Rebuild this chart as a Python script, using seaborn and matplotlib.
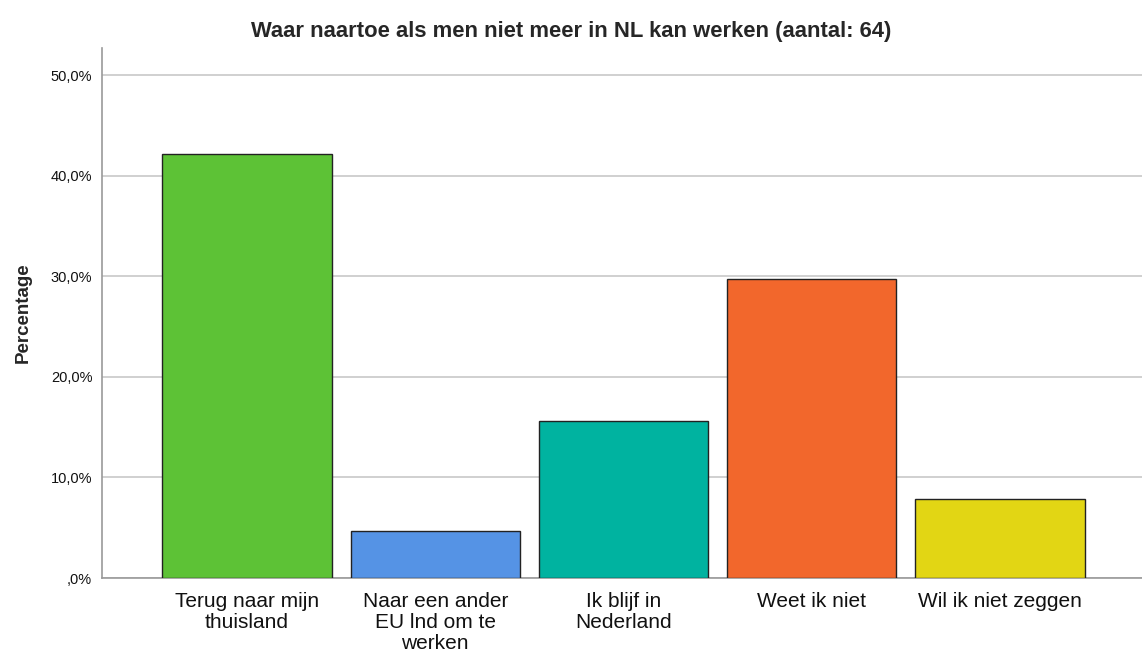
import numpy as np
import pandas as pd
import matplotlib.pyplot as plt
import seaborn as sns
from matplotlib.ticker import FuncFormatter

categories = ["Terug naar mijn\nthuisland", "Naar een ander\nEU lnd om te\nwerken",
              "Ik blijf in\nNederland", "Weet ik niet", "Wil ik niet zeggen"]
counts = [27, 3, 10, 19, 5]
colors = ["#5DC236", "#5593E5", "#00B3A0", "#F2672C", "#E2D614"]

total = sum(counts)
df = pd.DataFrame({"cat": categories, "pct": [c / total * 100 for c in counts]})

sns.set_style("white")
plt.rcParams["font.family"] = ["Liberation Sans", "DejaVu Sans"]

fig = plt.figure(figsize=(11.42, 6.54), dpi=100)
ax = fig.add_axes([0.0893, 0.1162, 0.9107, 0.8104])

sns.barplot(data=df, x="cat", y="pct", hue="cat", palette=colors, legend=False,
            saturation=1, width=0.9, edgecolor="#222222", linewidth=1.0, ax=ax, zorder=3)

ax.set_ylim(0, 52.7)
ax.set_xlim(-0.77, 4.754)
ax.set_yticks([0, 10, 20, 30, 40, 50])
ax.yaxis.set_major_formatter(FuncFormatter(lambda v, p: ",0%" if v == 0 else f"{v:.1f}%".replace(".", ",")))
ax.grid(axis="y", color="#C8C8C8", linewidth=1.2, zorder=0)
ax.tick_params(axis="y", length=0, labelsize=10.5, pad=7, colors="#111111")
ax.tick_params(axis="x", length=0, labelsize=15, pad=10, colors="#111111")
for lbl in ax.get_xticklabels():
    lbl.set_linespacing(1.15)

for side in ["top", "right"]:
    ax.spines[side].set_visible(False)
for side in ["left", "bottom"]:
    ax.spines[side].set_color("#999999")
    ax.spines[side].set_linewidth(1.2)

ax.set_xlabel("")
ax.set_ylabel("Percentage", fontsize=13.5, fontweight="bold", labelpad=14)
fig.suptitle("Waar naartoe als men niet meer in NL kan werken (aantal: 64)",
             x=0.5, y=0.968, fontsize=15.8, fontweight="bold")

fig.savefig("out.png", dpi=100)
